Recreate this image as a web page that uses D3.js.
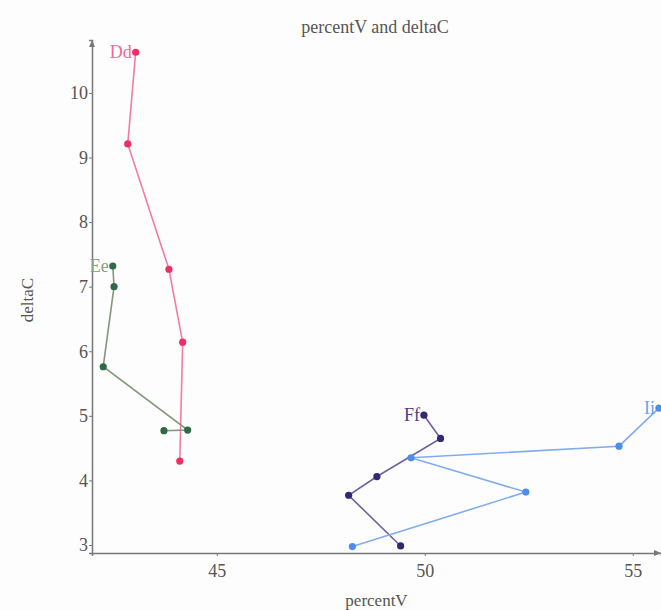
<!DOCTYPE html>
<html>
<head>
<meta charset="utf-8">
<script src="https://cdn.jsdelivr.net/npm/d3@7"></script>
<style>
  body { margin: 0; background: #fdfdfd; }
  svg { font-family: "Liberation Serif", "DejaVu Serif", serif; }
</style>
</head>
<body>
<div id="chart"></div>
<script>
// series values (percentV, deltaC), in drawing order
var seriesNames = ['Dd', 'Ee', 'Ff', 'Ii'];
var ddPercentV = [43.05, 42.86, 43.85, 44.18, 44.11];
var ddDeltaC = [10.63, 9.21, 7.27, 6.14, 4.30];
var eePercentV = [42.50, 42.53, 42.27, 44.30, 43.73];
var eeDeltaC = [7.32, 7.00, 5.76, 4.78, 4.77];
var ffPercentV = [49.98, 50.38, 48.85, 48.17, 49.42];
var ffDeltaC = [5.01, 4.65, 4.06, 3.77, 2.985];
var iiPercentV = [48.26, 52.43, 49.67, 54.67, 55.63];
var iiDeltaC = [2.975, 3.82, 4.35, 4.53, 5.12];
var xTicks = [45, 50, 55];
var yTicks = [3, 4, 5, 6, 7, 8, 9, 10];

var seriesColours = {
  Dd: { point: '#ee2f64', line: '#f27da0', label: '#f06a96' },
  Ee: { point: '#2f6a48', line: '#83977a', label: '#86a07e' },
  Ff: { point: '#34286f', line: '#6c62a0', label: '#4a3f8a' },
  Ii: { point: '#4f8ded', line: '#82acf0', label: '#6f9ef0' }
};

function buildSeries() {
  var xs = [ddPercentV, eePercentV, ffPercentV, iiPercentV];
  var ys = [ddDeltaC, eeDeltaC, ffDeltaC, iiDeltaC];
  return seriesNames.map((name, i) => {
    return {
      name: name,
      points: xs[i].map((x, j) => ({ x: x, y: ys[i][j] }))
    };
  });
}

function createChart() {
  var canvasWidth = 661;
  var canvasHeight = 610;

  var margin = { top: 40, right: 0, left: 92, bottom: 57 };

  var w = canvasWidth - margin.left - margin.right;
  var h = canvasHeight - margin.top - margin.bottom;

  var svg = d3.select('#chart')
    .append('svg')
    .attr('width', canvasWidth)
    .attr('height', canvasHeight);

  svg.append('rect')
    .attr('width', canvasWidth)
    .attr('height', canvasHeight)
    .style('fill', '#fdfdfd');

  // Title and axis titles
  svg.append('text')
    .attr('x', 375)
    .attr('y', 33)
    .attr('text-anchor', 'middle')
    .style('font-size', '18px')
    .style('fill', '#555')
    .text('percentV and deltaC');

  svg.append('text')
    .attr('x', margin.left + w / 2)
    .attr('y', 606)
    .attr('text-anchor', 'middle')
    .style('font-size', '17px')
    .style('fill', '#555')
    .text('percentV');

  svg.append('text')
    .attr('transform', 'translate(33,' + 300 + ') rotate(-90)')
    .attr('text-anchor', 'middle')
    .style('font-size', '17px')
    .style('fill', '#555')
    .text('deltaC');

  var inner = svg.append('g')
    .attr('transform', 'translate(' + margin.left + ',' + margin.top + ')');

  return [inner, w, h];
}

function renderChart(g, w, h, series) {
  var xScale = d3.scaleLinear().domain([42.0, 55.68]).range([0, w]);
  var yScale = d3.scaleLinear().domain([2.876, 10.82]).range([h, 0]);

  var xAxis = d3.axisBottom(xScale).tickValues(xTicks).tickSize(3).tickPadding(8);
  var yAxis = d3.axisLeft(yScale).tickValues(yTicks).tickSize(3).tickPadding(1);

  var xG = g.append('g').attr('transform', 'translate(0,' + h + ')').call(xAxis);
  var yG = g.append('g').call(yAxis);

  [xG, yG].forEach(a => {
    a.select('.domain').style('stroke', '#777').style('stroke-width', 1.5);
    a.selectAll('.tick line').style('stroke', '#777');
    a.selectAll('.tick text')
      .style('font-family', '"Liberation Serif", serif')
      .style('font-size', '18px')
      .style('fill', '#555');
  });

  // arrow heads at the axis ends
  g.append('path')
    .attr('d', d3.line()([[-3, 7], [0, 0], [3, 7]]))
    .style('fill', '#777');
  g.append('path')
    .attr('d', d3.line()([[w - 7, h - 3], [w, h], [w - 7, h + 3]]))
    .style('fill', '#777');

  var line = d3.line().x(d => xScale(d.x)).y(d => yScale(d.y));

  var groups = g.selectAll('g.series')
    .data(series)
    .enter()
    .append('g')
    .attr('class', 'series');

  groups.append('path')
    .attr('d', d => line(d.points))
    .style('fill', 'none')
    .style('stroke', d => seriesColours[d.name].line)
    .style('stroke-width', 1.6);

  groups.selectAll('circle')
    .data(d => d.points.map(p => ({ x: p.x, y: p.y, name: d.name })))
    .enter()
    .append('circle')
    .attr('cx', d => xScale(d.x))
    .attr('cy', d => yScale(d.y))
    .attr('r', 3.6)
    .style('fill', d => seriesColours[d.name].point);

  // Label each series next to its highest point
  groups.append('text')
    .attr('x', d => xScale(d3.greatest(d.points, p => p.y).x) - 4)
    .attr('y', d => yScale(d3.greatest(d.points, p => p.y).y) + 6)
    .attr('text-anchor', 'end')
    .style('font-size', '18px')
    .style('fill', d => seriesColours[d.name].label)
    .text(d => d.name);
}

var chart = createChart();
renderChart(chart[0], chart[1], chart[2], buildSeries());
</script>
</body>
</html>
